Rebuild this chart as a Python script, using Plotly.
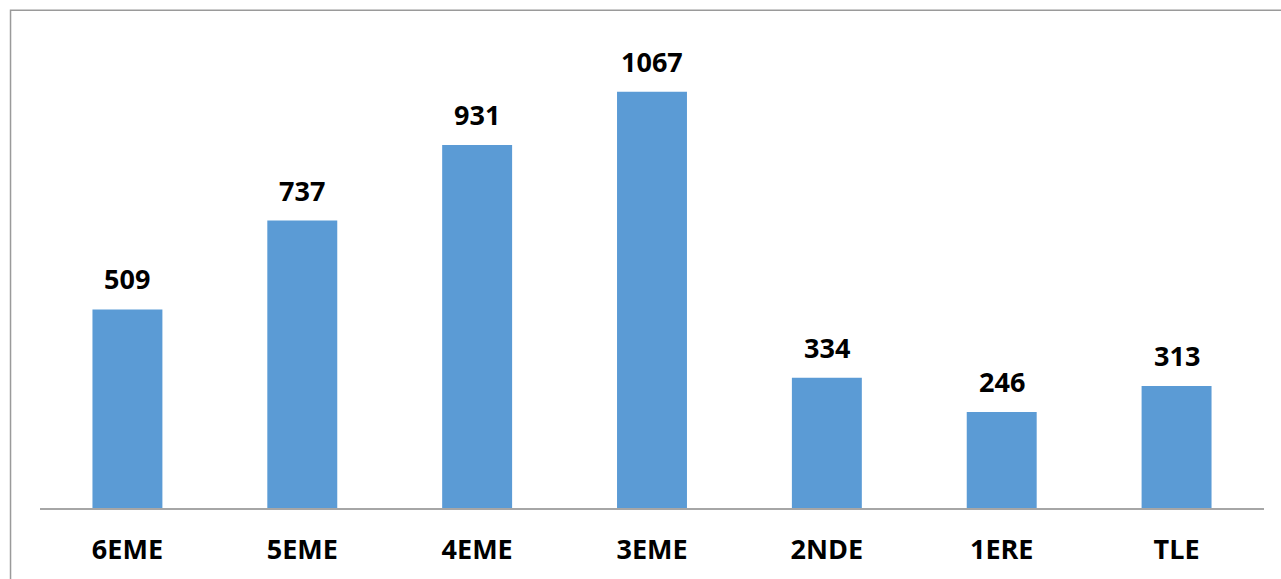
import plotly.graph_objects as go

categories = ["6EME", "5EME", "4EME", "3EME", "2NDE", "1ERE", "TLE"]
values = [509, 737, 931, 1067, 334, 246, 313]

W, H = 1281, 579
left, right = 39.5, 16.5
top, bottom = 40, 69
plot_w = W - left - right
plot_h = H - top - bottom

fig = go.Figure(go.Bar(
    x=categories, y=values,
    marker=dict(color="#5B9BD5", line=dict(width=0)),
    hoverinfo="x+y",
))

for c, v in zip(categories, values):
    fig.add_annotation(x=c, y=v, text=f"<b>{v}</b>", showarrow=False,
                       yanchor="bottom", yshift=10,
                       font=dict(family="Open Sans", size=27, color="#000000"))

# outer chart border (extends past right/bottom edges of the view)
fig.add_shape(type="rect", xref="paper", yref="paper",
              x0=(10 - left) / plot_w, x1=1.2,
              y0=-0.5, y1=(H - bottom - 10) / plot_h,
              line=dict(color="#9a9a9a", width=1.5), fillcolor="rgba(0,0,0,0)",
              layer="below")

fig.update_layout(
    width=W, height=H,
    margin=dict(l=left, r=right, t=top, b=bottom, pad=0),
    paper_bgcolor="white", plot_bgcolor="white",
    bargap=0.6, showlegend=False,
    font=dict(family="Open Sans", size=27, color="#000000"),
    xaxis=dict(showline=True, linecolor="#a6a6a6", linewidth=1.5,
               ticks="", showgrid=False, zeroline=False,
               tickfont=dict(family="Open Sans", size=27, color="#000000"),
               ticklabelstandoff=17,
               tickvals=categories,
               ticktext=[f"<b>{c}</b>" for c in categories]),
    yaxis=dict(range=[0, 1200 * (H - top - bottom) / 470], visible=False,
               showgrid=False, zeroline=False),
)

fig.write_html("out.html", config={"displayModeBar": False},
               post_script="document.body.style.margin='0';document.body.style.padding='0';document.body.style.overflow='hidden';")
